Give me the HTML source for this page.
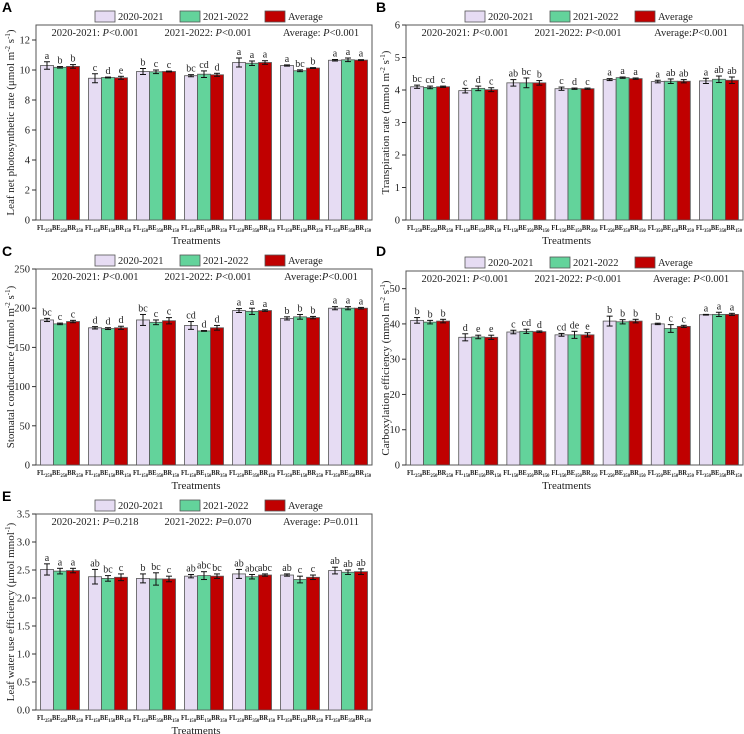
<!DOCTYPE html>
<html><head><meta charset="utf-8">
<style>
html,body{margin:0;padding:0;background:#fff;}
svg{display:block;font-family:"Liberation Serif",serif;}
.pl{font-family:"Liberation Sans",sans-serif;font-weight:bold;font-size:14px;}
</style></head>
<body>
<svg id="fig" width="744" height="734" viewBox="0 0 744 734" xmlns="http://www.w3.org/2000/svg"></svg>
<script>
const categories = ["FL250BE250BR250","FL150BE150BR150","FL150BE350BR150","FL150BE150BR350","FL250BE350BR150","FL350BE150BR250","FL350BE350BR150"];
const seriesNames = ["2020-2021","2021-2022","Average"];
const A_p = [10.3,9.45,9.9,9.62,10.5,10.3,10.65];
const A_g = [10.18,9.5,9.88,9.72,10.45,9.95,10.68];
const A_a = [10.24,9.48,9.9,9.68,10.5,10.13,10.66];
const A_ep = [0.25,0.3,0.2,0.07,0.3,0.04,0.05];
const A_eg = [0.05,0.03,0.12,0.22,0.15,0.06,0.12];
const A_ea = [0.12,0.1,0.03,0.1,0.12,0.03,0.03];
const A_lp = ["a","c","b","bc","a","a","a"];
const A_lg = ["b","d","c","cd","a","bc","a"];
const A_la = ["b","e","c","d","a","b","a"];
const B_p = [4.1,3.98,4.22,4.04,4.32,4.26,4.28];
const B_g = [4.08,4.05,4.22,4.04,4.38,4.27,4.33];
const B_a = [4.1,4.01,4.22,4.04,4.35,4.27,4.3];
const B_ep = [0.05,0.07,0.1,0.05,0.03,0.04,0.08];
const B_eg = [0.04,0.07,0.15,0.02,0.02,0.07,0.1];
const B_ea = [0.02,0.06,0.07,0.02,0.02,0.05,0.1];
const B_lp = ["bc","c","ab","c","a","a","a"];
const B_lg = ["cd","d","bc","d","a","ab","ab"];
const B_la = ["c","c","b","c","a","ab","ab"];
const C_p = [185,175,185,178,197,187,200];
const C_g = [180,174,182,171,196,189,200];
const C_a = [183,175,184,175,197,188,200];
const C_ep = [2,1.5,7,5,2.5,2,2];
const C_eg = [1,1.2,3,0.5,4,3,2];
const C_ea = [1.5,2,4,3,1,1.5,1];
const C_lp = ["bc","d","bc","cd","a","b","a"];
const C_lg = ["c","d","c","d","a","b","a"];
const C_la = ["c","d","c","d","a","b","a"];
const D_p = [41,36.2,37.7,36.9,40.8,40,42.6];
const D_g = [40.5,36.3,37.9,36.9,40.6,38.7,42.7];
const D_a = [40.8,36.2,37.8,36.9,40.8,39.3,42.7];
const D_ep = [0.8,1,0.5,0.4,1.4,0.2,0.1];
const D_eg = [0.5,0.5,0.6,1,0.6,1.1,0.6];
const D_ea = [0.5,0.6,0.2,0.6,0.5,0.3,0.3];
const D_lp = ["b","d","c","cd","b","b","a"];
const D_lg = ["b","e","cd","de","b","c","a"];
const D_la = ["b","e","d","e","b","c","a"];
const E_p = [2.51,2.38,2.35,2.39,2.43,2.41,2.49];
const E_g = [2.48,2.35,2.34,2.4,2.38,2.33,2.46];
const E_a = [2.49,2.37,2.34,2.39,2.41,2.37,2.47];
const E_ep = [0.1,0.13,0.08,0.03,0.08,0.02,0.06];
const E_eg = [0.05,0.05,0.11,0.07,0.04,0.06,0.04];
const E_ea = [0.04,0.06,0.05,0.04,0.02,0.04,0.05];
const E_lp = ["a","ab","b","ab","ab","ab","ab"];
const E_lg = ["a","bc","bc","abc","abc","c","ab"];
const E_la = ["a","c","c","bc","abc","c","ab"];
const A_ticks = [0,2,4,6,8,10,12];
const B_ticks = [0,1,2,3,4,5,6];
const C_ticks = [0,50,100,150,200,250];
const D_ticks = [0,10,20,30,40,50];
const E_ticks = ["0.0","0.5","1.0","1.5","2.0","2.5","3.0","3.5"];

const NS="http://www.w3.org/2000/svg";
const svg=document.getElementById('fig');
const colors=["#e6dcf3","#63d39b","#c00000"];
function mk(tag,attrs,parent){const e=document.createElementNS(NS,tag);for(const k in attrs)e.setAttribute(k,attrs[k]);(parent||svg).appendChild(e);return e;}

function panel(cfg){
  const g=mk('g',{});
  
  
  const {x0,y0,w,h,max}=cfg;
  const Y=v=>y0+h-(v/max)*h;
  const gw=w/7, bw=13;
  const X=(i,s)=>x0+gw*i+(gw-3*bw)/2+s*bw;
  const pl=mk('text',{x:cfg.lx,y:cfg.ly,'class':'pl'},g);pl.textContent=cfg.letter;
  
  
  const fr=mk('rect',{x:x0,y:y0,width:w,height:h,fill:'none',stroke:'#555','stroke-width':1},g);
  
  
  cfg.ticks.forEach(t=>{
    const v=parseFloat(t);const yy=Y(v);
    mk('line',{x1:x0-4,x2:x0,y1:yy,y2:yy,stroke:'#333','stroke-width':1},g);
    const tl=mk('text',{x:x0-6,y:yy+3.5,'font-size':10.5,'text-anchor':'end',fill:'#222'},g);
    tl.textContent=t;
    
    
  });
  const yt=mk('text',{x:0,y:0,'font-size':11,'text-anchor':'middle',fill:'#222',transform:`translate(${cfg.ytx},${y0+h/2}) rotate(-90)`},g);
  yt.innerHTML=cfg.ytitle;
  
  
  const S=[cfg.p,cfg.g,cfg.a],E=[cfg.ep,cfg.eg,cfg.ea],L=[cfg.lp,cfg.lg,cfg.la];
  for(let i=0;i<7;i++){
    for(let s=0;s<3;s++){
      const v=S[s][i],bx=X(i,s),by=Y(v);
      const r=mk('rect',{x:bx,y:by,width:bw,height:y0+h-by,fill:colors[s],stroke:'#555','stroke-width':0.8},g);
      
      
      const e=E[s][i],cx=bx+bw/2,t=Y(v+e),b=Y(v-e);
      mk('line',{x1:cx,x2:cx,y1:t,y2:b,stroke:'#111','stroke-width':1},g);
      mk('line',{x1:cx-3,x2:cx+3,y1:t,y2:t,stroke:'#111','stroke-width':1},g);
      mk('line',{x1:cx-3,x2:cx+3,y1:b,y2:b,stroke:'#111','stroke-width':1},g);
      const lt=mk('text',{x:cx,y:t-3,'font-size':10,'text-anchor':'middle',fill:'#222'},g);
      lt.textContent=L[s][i];
      
      
    }
    const c=categories[i];
    const xl=mk('text',{x:x0+gw*i+1,y:y0+h+10,'font-size':7,'font-weight':'bold',fill:'#222',textLength:gw-2,lengthAdjust:'spacingAndGlyphs'},g);
    const parts=c.match(/([A-Z]+)(\d+)/g);
    let html='';
    parts.forEach(p=>{const m=p.match(/([A-Z]+)(\d+)/);html+=`<tspan>${m[1]}</tspan><tspan font-size="5" baseline-shift="-2">${m[2]}</tspan>`;});
    xl.innerHTML=html;
    
    
  }
  const xt=mk('text',{x:x0+w/2-8,y:y0+h+24,'font-size':11,'text-anchor':'middle',fill:'#222'},g);
  xt.textContent='Treatments';
  
  
  const lg=mk('g',{},g);
  
  
  const lx=[x0+59,x0+144,x0+229];
  seriesNames.forEach((n,s)=>{
    const r=mk('rect',{x:lx[s],y:y0-14,width:20,height:11,fill:colors[s],stroke:'#555','stroke-width':0.8},lg);
    
    
    const t=mk('text',{x:lx[s]+23,y:y0-5,'font-size':10.5,fill:'#222'},lg);
    t.textContent=n;
    
    
  });
  const px=[x0+59,x0+172,x0+285];
  cfg.pv.forEach((s,k)=>{
    const t=mk('text',{x:px[k],y:y0+11,'font-size':10.5,'text-anchor':'middle',fill:'#222'},g);
    t.innerHTML=s;
    
    
  });
}
const sup=(s)=>`<tspan font-size="7" baseline-shift="super">${s}</tspan>`;
const PV=(a,b,c)=>[`2020-2021: <tspan font-style="italic">P</tspan>${a}`,`2021-2022: <tspan font-style="italic">P</tspan>${b}`,`Average${c}`];
panel({letter:'A',lx:2,ly:12,x0:36,y0:25,w:336,h:195,max:13,ticks:A_ticks,ytx:14,
  ytitle:`Leaf net photosynthetic rate (μmol m${sup('-2')} s${sup('-1')})`,
  p:A_p,g:A_g,a:A_a,ep:A_ep,eg:A_eg,ea:A_ea,lp:A_lp,lg:A_lg,la:A_la,
  pv:PV('&lt;0.001','&lt;0.001',': <tspan font-style="italic">P</tspan>&lt;0.001')});
panel({letter:'B',lx:376,ly:12,x0:406,y0:25,w:337,h:195,max:6,ticks:B_ticks,ytx:389,
  ytitle:`Transpiration rate (mmol m${sup('-2')} s${sup('-1')})`,
  p:B_p,g:B_g,a:B_a,ep:B_ep,eg:B_eg,ea:B_ea,lp:B_lp,lg:B_lg,la:B_la,
  pv:PV('&lt;0.001','&lt;0.001',':<tspan font-style="italic">P</tspan>&lt;0.001')});
panel({letter:'C',lx:2,ly:256,x0:36,y0:269,w:336,h:196,max:250,ticks:C_ticks,ytx:14,
  ytitle:`Stomatal conductance (mmol m${sup('-2')} s${sup('-1')})`,
  p:C_p,g:C_g,a:C_a,ep:C_ep,eg:C_eg,ea:C_ea,lp:C_lp,lg:C_lg,la:C_la,
  pv:PV('&lt;0.001','&lt;0.001',':<tspan font-style="italic">P</tspan>&lt;0.001')});
panel({letter:'D',lx:376,ly:256,x0:406,y0:271,w:337,h:194,max:55,ticks:D_ticks,ytx:389,
  ytitle:`Carboxylation efficiency (mmol m${sup('-2')} s${sup('-1')})`,
  p:D_p,g:D_g,a:D_a,ep:D_ep,eg:D_eg,ea:D_ea,lp:D_lp,lg:D_lg,la:D_la,
  pv:PV('&lt;0.001','&lt;0.001',': <tspan font-style="italic">P</tspan>&lt;0.001')});
panel({letter:'E',lx:2,ly:501,x0:36,y0:514,w:336,h:196,max:3.5,ticks:E_ticks,ytx:14,
  ytitle:`Leaf water use  efficiency (μmol mmol${sup('-1')})`,
  p:E_p,g:E_g,a:E_a,ep:E_ep,eg:E_eg,ea:E_ea,lp:E_lp,lg:E_lg,la:E_la,
  pv:PV('=0.218','=0.070',': <tspan font-style="italic">P</tspan>=0.011')});
</script>
</body></html>
